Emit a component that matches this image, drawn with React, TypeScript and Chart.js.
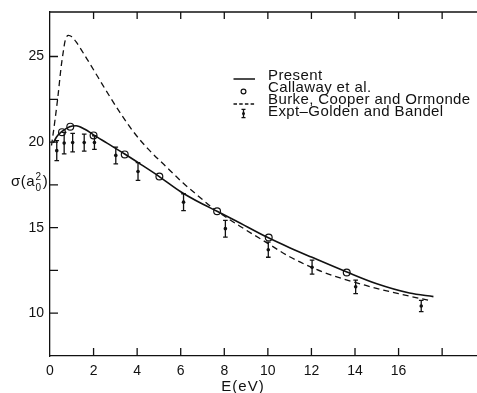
import React, { useEffect, useRef } from 'react';
import { Chart, registerables } from 'chart.js';

Chart.register(...registerables);

// ---- data ----
const X_TICKS = [0, 2, 4, 6, 8, 10, 12, 14, 16, 18];
const X_LABEL_MAX = 16;
const Y_TICKS = [7.5, 10, 12.5, 15, 17.5, 20, 22.5, 25];
const Y_LABELED = [10, 15, 20, 25];

const presentE = [0.15, 0.3, 0.55, 0.9, 1.2, 1.6, 2.0, 2.6, 3.43, 4.2, 5.0, 6.0, 7.0, 7.67, 8.5, 10.0, 11.0, 12.0, 13.6, 15.0, 16.5, 17.6];
const presentSigma = [19.95, 20.3, 20.62, 20.9, 20.95, 20.75, 20.42, 19.95, 19.3, 18.67, 18.0, 17.1, 16.38, 15.96, 15.42, 14.42, 13.83, 13.28, 12.42, 11.72, 11.18, 10.97];

const callawayE = [0.55, 0.93, 2.0, 3.43, 5.02, 7.67, 10.04, 13.62];
const callawaySigma = [20.58, 20.9, 20.39, 19.28, 17.99, 15.96, 14.42, 12.38];

const burkeE = [0.07, 0.22, 0.36, 0.51, 0.6, 0.7, 0.85, 1.0, 1.2, 1.7, 2.2, 2.7, 3.2, 3.8, 4.5, 5.3, 6.1, 6.9, 7.5, 8.7, 10.0, 11.0, 12.5, 14.5, 16.0, 17.5];
const burkeSigma = [19.8, 21.2, 22.62, 24.38, 25.2, 25.95, 26.23, 26.15, 25.85, 24.85, 23.8, 22.75, 21.75, 20.65, 19.6, 18.6, 17.62, 16.75, 16.12, 15.1, 14.08, 13.3, 12.42, 11.62, 11.14, 10.72];

const exptE = [0.31, 0.65, 1.04, 1.57, 2.04, 3.02, 4.04, 6.13, 8.05, 10.02, 12.03, 14.03, 17.04];
const exptSigma = [19.5, 19.94, 19.97, 19.97, 19.97, 19.22, 18.28, 16.49, 14.94, 13.71, 12.69, 11.54, 10.42];
const exptErr = [0.58, 0.63, 0.54, 0.5, 0.4, 0.49, 0.52, 0.49, 0.49, 0.44, 0.41, 0.39, 0.33];

const LABELS = ['Present', 'Callaway et al.', 'Burke, Cooper and Ormonde', 'Expt\u2013Golden and Bandel'];
const X_TITLE = 'E(eV)';

const INK = '#111';
const FONT = '"Liberation Sans", Arial, Helvetica, sans-serif';

const pts = (xs: number[], ys: number[]) => xs.map((x, i) => ({ x, y: ys[i] }));

const decorPlugin = {
  id: 'decor',
  afterDatasetsDraw(chart: any) {
    const { ctx, scales } = chart;
    const ys = scales.y;
    const meta = chart.getDatasetMeta(3);
    ctx.save();
    ctx.strokeStyle = INK;
    ctx.lineWidth = 1.3;
    meta.data.forEach((el: any, i: number) => {
      const x = el.x;
      const y1 = ys.getPixelForValue(exptSigma[i] + exptErr[i]);
      const y2 = ys.getPixelForValue(exptSigma[i] - exptErr[i]);
      ctx.beginPath();
      ctx.moveTo(x, y1); ctx.lineTo(x, y2);
      ctx.moveTo(x - 2.3, y1); ctx.lineTo(x + 2.3, y1);
      ctx.moveTo(x - 2.3, y2); ctx.lineTo(x + 2.3, y2);
      ctx.stroke();
    });
    ctx.restore();
  },
  afterDraw(chart: any) {
    const { ctx, chartArea: ca, scales } = chart;
    const xs = scales.x, ys = scales.y;
    ctx.save();
    ctx.strokeStyle = INK;
    ctx.fillStyle = INK;
    ctx.lineWidth = 1.3;
    // top frame line
    ctx.beginPath();
    ctx.moveTo(ca.left, ca.top); ctx.lineTo(ca.right, ca.top);
    ctx.stroke();
    // inward ticks
    ctx.beginPath();
    for (const v of X_TICKS) {
      if (v === 0) continue;
      const px = xs.getPixelForValue(v);
      ctx.moveTo(px, ca.bottom); ctx.lineTo(px, ca.bottom - 8);
      ctx.moveTo(px, ca.top); ctx.lineTo(px, ca.top + 7);
    }
    for (const v of Y_TICKS) {
      const py = ys.getPixelForValue(v);
      if (py >= ca.bottom - 1) continue;
      ctx.moveTo(ca.left, py); ctx.lineTo(ca.left + 8, py);
    }
    ctx.stroke();

    // x title
    (ctx as any).letterSpacing = '1px';
    ctx.font = `15px ${FONT}`;
    ctx.textAlign = 'center';
    ctx.textBaseline = 'alphabetic';
    ctx.fillText(X_TITLE, 243, 390.5);

    // y title sigma(a_0^2)
    (ctx as any).letterSpacing = '0.5px';
    ctx.textAlign = 'left';
    ctx.font = `15px ${FONT}`;
    const base = ys.getPixelForValue(17.5) + 1.5;
    let x = 11;
    ctx.fillText('\u03c3(a', x, base);
    x += ctx.measureText('\u03c3(a').width + 0.5;
    ctx.font = `10px ${FONT}`;
    ctx.fillText('2', x, base - 6.5);
    ctx.fillText('0', x, base + 4.5);
    x += ctx.measureText('0').width + 1;
    ctx.font = `15px ${FONT}`;
    ctx.fillText(')', x, base);

    // legend
    (ctx as any).letterSpacing = '0.4px';
    ctx.font = `15px ${FONT}`;
    const lx = 268, sx0 = 233.5, sx1 = 255, cx = 243.5;
    const bases = [79.5, 91.8, 103.6, 115.7];
    LABELS.forEach((t, i) => ctx.fillText(t, lx, bases[i]));
    // solid sample
    ctx.lineWidth = 1.5;
    ctx.beginPath(); ctx.moveTo(sx0, 79); ctx.lineTo(sx1, 79); ctx.stroke();
    // circle sample
    ctx.lineWidth = 1.2;
    ctx.beginPath(); ctx.arc(cx, 91.5, 2.4, 0, Math.PI * 2); ctx.stroke();
    // dashed sample
    ctx.lineWidth = 1.3;
    ctx.setLineDash([3.5, 2.2]);
    ctx.beginPath(); ctx.moveTo(sx0, 104); ctx.lineTo(sx1, 104); ctx.stroke();
    ctx.setLineDash([]);
    // error bar sample
    ctx.beginPath();
    ctx.moveTo(cx, 109.3); ctx.lineTo(cx, 117.7);
    ctx.moveTo(cx - 2, 109.3); ctx.lineTo(cx + 2, 109.3);
    ctx.moveTo(cx - 2, 117.7); ctx.lineTo(cx + 2, 117.7);
    ctx.stroke();
    ctx.beginPath(); ctx.arc(cx, 113.5, 1.5, 0, Math.PI * 2); ctx.fill();
    ctx.restore();
  },
};

export default function App() {
  const ref = useRef<HTMLCanvasElement | null>(null);
  useEffect(() => {
    if (!ref.current) return;
    const chart = new Chart(ref.current, {
      type: 'scatter',
      data: {
        datasets: [
          {
            label: LABELS[0],
            data: pts(presentE, presentSigma),
            showLine: true,
            borderColor: INK,
            borderWidth: 1.6,
            pointRadius: 0,
            cubicInterpolationMode: 'monotone',
            fill: false,
          },
          {
            label: LABELS[1],
            data: pts(callawayE, callawaySigma),
            showLine: false,
            pointRadius: 3.4,
            pointBackgroundColor: '#fff',
            pointBorderColor: INK,
            pointBorderWidth: 1.2,
          },
          {
            label: LABELS[2],
            data: pts(burkeE, burkeSigma),
            showLine: true,
            borderColor: INK,
            borderWidth: 1.3,
            borderDash: [6, 4],
            pointRadius: 0,
            cubicInterpolationMode: 'monotone',
            fill: false,
          },
          {
            label: LABELS[3],
            data: pts(exptE, exptSigma),
            showLine: false,
            pointRadius: 1.8,
            pointBackgroundColor: INK,
            pointBorderWidth: 0,
          },
        ],
      },
      options: {
        animation: false,
        responsive: true,
        maintainAspectRatio: false,
        events: [],
        layout: { autoPadding: false, padding: { top: 12, right: 0, left: 0, bottom: 0 } },
        plugins: { legend: { display: false }, tooltip: { enabled: false } },
        scales: {
          x: {
            type: 'linear',
            min: 0,
            max: 19.6,
            grid: { display: false, drawTicks: false, tickLength: 0 },
            border: { display: true, color: INK, width: 1.3 },
            afterBuildTicks: (s: any) => { s.ticks = X_TICKS.map((v) => ({ value: v })); },
            afterFit: (s: any) => { s.height = 37; s.paddingLeft = 0; s.paddingRight = 0; },
            ticks: {
              autoSkip: false,
              maxRotation: 0,
              padding: 7,
              color: INK,
              font: { family: FONT, size: 14 },
              callback: (v: any) => (Number(v) <= X_LABEL_MAX ? String(v) : ''),
            },
          },
          y: {
            type: 'linear',
            min: 7.5,
            max: 27.6,
            grid: { display: false, drawTicks: false, tickLength: 0 },
            border: { display: true, color: INK, width: 1.3 },
            afterBuildTicks: (s: any) => { s.ticks = Y_TICKS.map((v) => ({ value: v })); },
            afterFit: (s: any) => { s.width = 50; s.paddingTop = 0; s.paddingBottom = 0; },
            ticks: {
              autoSkip: false,
              padding: 6,
              color: INK,
              font: { family: FONT, size: 14 },
              callback: (v: any) => (Y_LABELED.includes(Number(v)) ? String(v) : ''),
            },
          },
        },
      } as any,
      plugins: [decorPlugin],
    });
    return () => chart.destroy();
  }, []);

  return (
    <div style={{ position: 'fixed', left: 0, top: 0, width: 477, height: 393, background: '#fff' }}>
      <canvas ref={ref} />
    </div>
  );
}
